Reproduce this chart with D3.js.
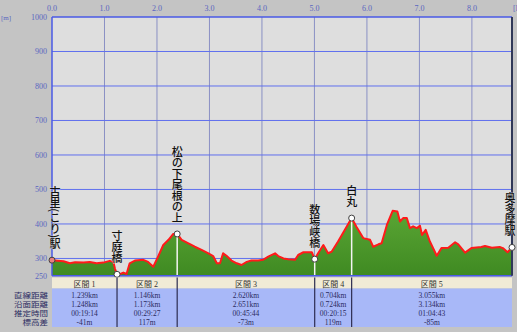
<!DOCTYPE html>
<html>
<head>
<meta charset="utf-8">
<script src="https://cdn.jsdelivr.net/npm/d3@7"></script>
<style>
  body { margin: 0; background: #c4c4c4; }
  svg { display: block; }
</style>
</head>
<body>
<svg id="chart" width="517" height="332"></svg>
<script>
// profile: horizontal distance [km] / elevation [m]
const profileDist = [0.00, 0.22, 0.34, 0.44, 0.60, 0.72, 0.85, 0.98, 1.10, 1.17, 1.20, 1.239, 1.30, 1.36, 1.42, 1.48, 1.58, 1.74, 1.83, 1.93, 2.02, 2.12, 2.22, 2.31, 2.385,
  2.47, 2.60, 2.72, 2.85, 2.98, 3.07, 3.14, 3.20, 3.26, 3.33, 3.42, 3.52, 3.61, 3.71, 3.80, 3.93, 4.02, 4.12, 4.25, 4.31, 4.41, 4.50, 4.63, 4.69, 4.79, 4.95, 5.005,
  5.07, 5.17, 5.26, 5.33, 5.45, 5.58, 5.709,
  5.80, 5.93, 6.06, 6.12, 6.22, 6.28, 6.38, 6.49, 6.58, 6.63, 6.69, 6.76, 6.82, 6.88, 6.95, 7.01, 7.05, 7.12, 7.20, 7.33, 7.42, 7.55, 7.68, 7.74, 7.87, 7.99, 8.18, 8.25, 8.38, 8.53, 8.59, 8.68, 8.764];
const profileElev = [295, 292, 286, 289, 288, 290, 286, 288, 293, 290, 270, 254, 255, 259, 255, 286, 294, 296, 290, 276, 305, 339, 354, 371, 371,
  354, 344, 334, 325, 315, 307, 286, 286, 315, 307, 294, 286, 281, 290, 294, 294, 296, 305, 315, 307, 300, 298, 296, 310, 318, 318, 298,
  315, 339, 315, 320, 349, 383, 417,
  392, 359, 354, 334, 341, 344, 397, 438, 436, 407, 417, 417, 388, 393, 388, 395, 368, 383, 349, 308, 330, 331, 347, 341, 317, 330, 333, 336, 331, 333, 330, 318, 332];

const waypointNames = ['古里(こり)駅', '寸庭橋', '松の下尾根の上', '数場峡橋', '白丸', '奥多摩駅'];
const waypointElev = [295, 254, 371, 298, 417, 332];

const sectionNames = ['区間 1', '区間 2', '区間 3', '区間 4', '区間 5'];
const straightDist = [1.239, 1.146, 2.620, 0.704, 3.055];
const surfaceDist = [1.248, 1.173, 2.651, 0.724, 3.134];
const estTimes = ['00:19:14', '00:29:27', '00:45:44', '00:20:15', '01:04:43'];
const elevDiff = [-41, 117, -73, 119, -85];
const rowLabels = ['直線距離', '沿面距離', '推定時間', '標高差'];

const xTicks = [0, 1, 2, 3, 4, 5, 6, 7, 8];
const yTicks = [1000, 900, 800, 700, 600, 500, 400, 300, 250];

const svg = d3.select('#chart');
const mLeft = 52, mRight = 512, mTop = 17, mBottom = 275.7;
const total = d3.sum(straightDist);

const x = d3.scaleLinear().domain([0, total]).range([mLeft, mRight]);
const y = d3.scaleLinear().domain([250, 1000]).range([mBottom, mTop]);

const serif = '"Liberation Serif", "DejaVu Serif", "Noto Sans CJK JP", serif';
const jp = '"Noto Sans CJK JP", sans-serif';

// plot background
svg.append('rect').attr('x', mLeft).attr('y', mTop).attr('width', mRight - mLeft).attr('height', mBottom - mTop)
  .attr('fill', '#dedede');

// vertical grid
svg.append('g').selectAll('line').data(xTicks.slice(1)).join('line')
  .attr('x1', d => x(d)).attr('x2', d => x(d)).attr('y1', mTop).attr('y2', mBottom)
  .attr('stroke', '#8a90c4').attr('stroke-width', 1);

// horizontal grid
svg.append('g').selectAll('line').data(yTicks.filter(d => d < 1000 && d > 250)).join('line')
  .attr('x1', mLeft).attr('x2', mRight).attr('y1', d => y(d)).attr('y2', d => y(d))
  .attr('stroke', '#6070ee').attr('stroke-width', 1);

// tick labels
svg.append('g').selectAll('text').data(xTicks).join('text')
  .attr('x', d => x(d)).attr('y', 11).attr('text-anchor', 'middle')
  .attr('font-family', serif).attr('font-size', 8).attr('fill', '#5a66c0')
  .text(d => d3.format('.1f')(d));
svg.append('g').selectAll('text').data(yTicks).join('text')
  .attr('x', 47).attr('y', d => y(d) + 3).attr('text-anchor', 'end')
  .attr('font-family', serif).attr('font-size', 8).attr('fill', '#5a66c0')
  .text(d => d);
svg.append('text').attr('x', 1).attr('y', 20).attr('font-family', serif).attr('font-size', 7)
  .attr('fill', '#5a66c0').text('[m]');
svg.append('text').attr('x', 513).attr('y', 11).attr('font-family', serif).attr('font-size', 8)
  .attr('fill', '#5a66c0').text('[km]');

// profile
const pts = profileDist.map((d, i) => [d, profileElev[i]]);
const grad = svg.append('defs').append('linearGradient').attr('id', 'g').attr('x1', 0).attr('x2', 0).attr('y1', 0).attr('y2', 1);
grad.append('stop').attr('offset', 0).attr('stop-color', '#5aa534');
grad.append('stop').attr('offset', 1).attr('stop-color', '#3f8a22');

svg.append('path').datum(pts)
  .attr('d', d3.area().x(d => x(d[0])).y0(mBottom).y1(d => y(d[1])))
  .attr('fill', 'url(#g)').attr('stroke', 'none');

// waypoint positions
const cum = [0];
straightDist.forEach(d => cum.push(cum[cum.length - 1] + d));

svg.append('g').selectAll('line').data(cum.slice(1, -1)).join('line')
  .attr('x1', d => x(d)).attr('x2', d => x(d))
  .attr('y1', (d, i) => y(waypointElev[i + 1])).attr('y2', mBottom)
  .attr('stroke', '#f4f4f4').attr('stroke-width', 1.5);

svg.append('path').datum(pts)
  .attr('d', d3.line().x(d => x(d[0])).y(d => y(d[1])))
  .attr('fill', 'none').attr('stroke', '#ff1a1a').attr('stroke-width', 2).attr('stroke-linejoin', 'round');

// plot borders
svg.append('line').attr('x1', mLeft).attr('x2', mRight).attr('y1', mTop).attr('y2', mTop)
  .attr('stroke', '#4a5ae6').attr('stroke-width', 1.5);
svg.append('line').attr('x1', mLeft).attr('x2', mLeft).attr('y1', mTop).attr('y2', mBottom)
  .attr('stroke', '#4a5ae6').attr('stroke-width', 1.5);
svg.append('line').attr('x1', mLeft).attr('x2', mRight).attr('y1', mBottom).attr('y2', mBottom)
  .attr('stroke', '#4a5ae6').attr('stroke-width', 1.5);
svg.append('line').attr('x1', mRight).attr('x2', mRight).attr('y1', mTop).attr('y2', mBottom)
  .attr('stroke', '#303858').attr('stroke-width', 2);

// markers
svg.append('g').selectAll('circle').data(cum).join('circle')
  .attr('cx', d => x(d)).attr('cy', (d, i) => y(waypointElev[i])).attr('r', 3)
  .attr('fill', (d, i) => i === 0 ? '#e88080' : '#ffffff').attr('stroke', '#404040').attr('stroke-width', 1);

// waypoint labels (vertical)
svg.append('g').selectAll('text').data(waypointNames).join('text')
  .attr('x', (d, i) => Math.min(x(cum[i]) + (i === 0 ? 3 : 0), 510))
  .attr('y', (d, i) => y(waypointElev[i]) - 11)
  .attr('text-anchor', 'end')
  .style('writing-mode', 'vertical-rl')
  .attr('font-family', jp).attr('font-size', 11).attr('font-weight', 500).attr('fill', '#111')
  .attr('stroke', '#dedede').attr('stroke-width', 0.6).attr('paint-order', 'stroke')
  .text(d => d);

// table
const tTop = 277.5, hBottom = 288.5, tBottom = 327;
svg.append('rect').attr('x', mLeft).attr('y', tTop).attr('width', mRight - mLeft).attr('height', hBottom - tTop)
  .attr('fill', '#f1ebd6');
svg.append('rect').attr('x', mLeft).attr('y', hBottom).attr('width', mRight - mLeft).attr('height', tBottom - hBottom)
  .attr('fill', '#a8b8f8');

svg.append('g').selectAll('line').data(cum.slice(1, -1)).join('line')
  .attr('x1', d => x(d)).attr('x2', d => x(d)).attr('y1', tTop).attr('y2', tBottom)
  .attr('stroke', '#2c2c50').attr('stroke-width', 1.2);

const mids = straightDist.map((d, i) => x(cum[i] + d / 2));
svg.append('g').selectAll('text').data(sectionNames).join('text')
  .attr('x', (d, i) => mids[i]).attr('y', 286.5).attr('text-anchor', 'middle')
  .attr('font-family', serif).attr('font-size', 8).attr('fill', '#333').text(d => d);

const rows = [
  straightDist.map(d => d3.format('.3f')(d) + 'km'),
  surfaceDist.map(d => d3.format('.3f')(d) + 'km'),
  estTimes,
  elevDiff.map(d => d + 'm')
];
const rowY = [297.5, 306.5, 315.5, 324.5];
rows.forEach((row, r) => {
  svg.append('g').selectAll('text').data(row).join('text')
    .attr('x', (d, i) => mids[i]).attr('y', rowY[r]).attr('text-anchor', 'middle')
    .attr('font-family', serif).attr('font-size', 7.5).attr('fill', '#2a2a60').text(d => d);
});
svg.append('g').selectAll('text').data(rowLabels).join('text')
  .attr('x', 48).attr('y', (d, i) => rowY[i]).attr('text-anchor', 'end')
  .attr('font-family', jp).attr('font-size', 6.5)
  .attr('textLength', d => d.length * 8.5).attr('lengthAdjust', 'spacingAndGlyphs')
  .attr('fill', '#2a2a60').text(d => d);
</script>
</body>
</html>
